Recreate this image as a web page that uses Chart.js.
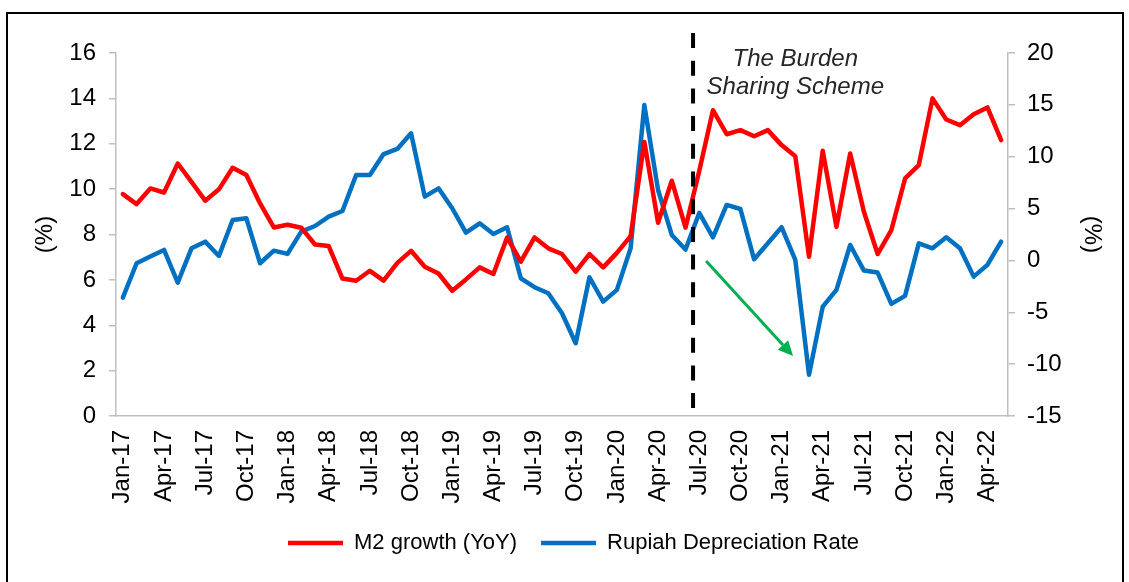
<!DOCTYPE html>
<html>
<head>
<meta charset="utf-8">
<script src="https://cdn.jsdelivr.net/npm/chart.js@4.4.1/dist/chart.umd.min.js"></script>
<style>
  html, body { margin: 0; padding: 0; background: #fff; }
  #wrap { position: relative; width: 1129px; height: 582px; overflow: hidden; }
  #frame { position: absolute; left: 6px; top: 12px; width: 1118px; height: 600px; border: 2px solid #000; box-sizing: border-box; pointer-events: none; }
  canvas { position: absolute; left: 0; top: 0; }
</style>
</head>
<body>
<div id="wrap">
  <canvas id="chart" width="1129" height="582"></canvas>
  <div id="frame"></div>
</div>
<script>
// months, Jan-17 .. May-22
const months = [
  'Jan-17','Feb-17','Mar-17','Apr-17','May-17','Jun-17','Jul-17','Aug-17','Sep-17','Oct-17','Nov-17','Dec-17',
  'Jan-18','Feb-18','Mar-18','Apr-18','May-18','Jun-18','Jul-18','Aug-18','Sep-18','Oct-18','Nov-18','Dec-18',
  'Jan-19','Feb-19','Mar-19','Apr-19','May-19','Jun-19','Jul-19','Aug-19','Sep-19','Oct-19','Nov-19','Dec-19',
  'Jan-20','Feb-20','Mar-20','Apr-20','May-20','Jun-20','Jul-20','Aug-20','Sep-20','Oct-20','Nov-20','Dec-20',
  'Jan-21','Feb-21','Mar-21','Apr-21','May-21','Jun-21','Jul-21','Aug-21','Sep-21','Oct-21','Nov-21','Dec-21',
  'Jan-22','Feb-22','Mar-22','Apr-22','May-22'
];

// M2 growth (YoY), %, left axis
const m2Growth = [
  9.78, 9.34, 10.03, 9.85, 11.13, 10.32, 9.49, 9.99, 10.94, 10.62, 9.37, 8.31,
  8.43, 8.30, 7.56, 7.49, 6.06, 5.96, 6.40, 5.97, 6.75, 7.28, 6.58, 6.28,
  5.52, 6.02, 6.55, 6.26, 7.87, 6.80, 7.87, 7.39, 7.14, 6.36, 7.14, 6.55,
  7.19, 7.93, 12.08, 8.52, 10.37, 8.30, 10.8, 13.48, 12.42, 12.60, 12.33, 12.60,
  11.94, 11.45, 7.02, 11.69, 8.34, 11.57, 9.00, 7.14, 8.19, 10.47, 11.06, 14.00,
  13.07, 12.82, 13.30, 13.60, 12.16
];

// Rupiah depreciation rate, %, right axis
const rupiahDepreciation = [
  -3.58, -0.27, 0.37, 1.01, -2.14, 1.17, 1.81, 0.43, 3.90, 4.06, -0.27, 0.94,
  0.63, 2.78, 3.32, 4.22, 4.77, 8.24, 8.24, 10.26, 10.75, 12.26, 6.15, 6.95,
  5.03, 2.68, 3.58, 2.55, 3.20, -1.72, -2.58, -3.16, -5.09, -7.98, -1.62, -3.97,
  -2.84, 1.17, 14.98, 6.79, 2.46, 1.05, 4.58, 2.23, 5.35, 4.96, 0.11, 1.65,
  3.20, 0.05, -11.03, -4.45, -2.84, 1.49, -0.98, -1.17, -4.19, -3.42, 1.65, 1.17,
  2.23, 1.17, -1.56, -0.43, 1.81
];

// annotation anchors (category index, left-axis value)
const schemeStart = 41.55;
const schemeLabel = ['The Burden', 'Sharing Scheme'];
const schemeLabelPos = [49, 15.73, 14.5];
const arrowFrom = [42.5, 6.83];
const arrowTo = [48.84, 2.64];

const FONT = '"Liberation Sans", Arial, sans-serif';
const AXIS_GREY = '#BFBFBF';

const burdenSharing = {
  id: 'burdenSharing',
  afterDatasetsDraw(chart) {
    const { ctx, chartArea, scales: { x, y } } = chart;
    const at = i => x.getPixelForValue(Math.floor(i)) +
      (i % 1) * (x.getPixelForValue(1) - x.getPixelForValue(0));

    ctx.save();
    // vertical dashed line
    const lx = at(schemeStart);
    ctx.strokeStyle = '#000';
    ctx.lineWidth = 4;
    ctx.setLineDash([15, 12.7]);
    ctx.beginPath();
    ctx.moveTo(lx, chartArea.top - 20);
    ctx.lineTo(lx, chartArea.bottom);
    ctx.stroke();
    ctx.setLineDash([]);

    // label
    ctx.fillStyle = '#262626';
    ctx.font = 'italic 24px ' + FONT;
    ctx.textAlign = 'center';
    ctx.textBaseline = 'middle';
    const tx = at(schemeLabelPos[0]);
    ctx.fillText(schemeLabel[0], tx, y.getPixelForValue(schemeLabelPos[1]));
    ctx.fillText(schemeLabel[1], tx, y.getPixelForValue(schemeLabelPos[2]));

    // green arrow
    const x0 = at(arrowFrom[0]), y0 = y.getPixelForValue(arrowFrom[1]);
    const x1 = at(arrowTo[0]), y1 = y.getPixelForValue(arrowTo[1]);
    const ang = Math.atan2(y1 - y0, x1 - x0);
    const head = 15, half = 7;
    const bx = x1 - head * Math.cos(ang), by = y1 - head * Math.sin(ang);
    ctx.strokeStyle = '#00B050';
    ctx.fillStyle = '#00B050';
    ctx.lineWidth = 3;
    ctx.beginPath();
    ctx.moveTo(x0, y0);
    ctx.lineTo(bx, by);
    ctx.stroke();
    ctx.beginPath();
    ctx.moveTo(x1, y1);
    ctx.lineTo(bx + half * Math.sin(ang), by - half * Math.cos(ang));
    ctx.lineTo(bx - half * Math.sin(ang), by + half * Math.cos(ang));
    ctx.closePath();
    ctx.fill();
    ctx.restore();
  }
};

new Chart(document.getElementById('chart'), {
  type: 'line',
  data: {
    labels: months,
    datasets: [
      {
        label: 'M2 growth (YoY)',
        data: m2Growth,
        yAxisID: 'y',
        borderColor: '#FF0000',
        backgroundColor: '#FF0000',
        borderWidth: 4.5,
        borderCapStyle: 'round',
        borderJoinStyle: 'round',
        pointRadius: 0,
        tension: 0
      },
      {
        label: 'Rupiah Depreciation Rate',
        data: rupiahDepreciation,
        yAxisID: 'y1',
        borderColor: '#0070C0',
        backgroundColor: '#0070C0',
        borderWidth: 4.5,
        borderCapStyle: 'round',
        borderJoinStyle: 'round',
        pointRadius: 0,
        tension: 0
      }
    ]
  },
  options: {
    responsive: false,
    animation: false,
    layout: { padding: { left: 18, top: 53, right: 0, bottom: 18 } },
    plugins: {
      tooltip: { enabled: false },
      legend: {
        position: 'bottom',
        labels: {
          usePointStyle: true,
          pointStyle: 'line',
          pointStyleWidth: 55,
          padding: 24,
          color: '#000',
          font: { family: FONT, size: 22 }
        }
      }
    },
    scales: {
      x: {
        offset: true,
        grid: { display: false, drawTicks: false },
        border: { color: AXIS_GREY, width: 1.5 },
        ticks: {
          autoSkip: false,
          maxRotation: 90,
          minRotation: 90,
          padding: 14,
          color: '#000',
          font: { family: FONT, size: 24 },
          callback(val, i) { return i % 3 === 0 ? this.getLabelForValue(val) : ''; }
        },
        afterFit(scale) { scale.height = 92; }
      },
      y: {
        position: 'left',
        min: 0,
        max: 16,
        grid: { drawOnChartArea: false, color: AXIS_GREY, tickLength: 7, lineWidth: 1.5 },
        border: { color: AXIS_GREY, width: 1.5 },
        ticks: { stepSize: 2, padding: 13, color: '#000', font: { family: FONT, size: 24 } },
        title: { display: true, text: '(%)', color: '#000', padding: { top: 12.6, bottom: 0 }, font: { family: FONT, size: 24 } },
        afterFit(scale) { scale.width = 98; }
      },
      y1: {
        position: 'right',
        min: -15,
        max: 20,
        grid: { drawOnChartArea: false, color: AXIS_GREY, tickLength: 7, lineWidth: 1.5 },
        border: { color: AXIS_GREY, width: 1.5 },
        ticks: { stepSize: 5, padding: 12, color: '#000', font: { family: FONT, size: 24 } },
        title: { display: true, text: '(%)', color: '#000', padding: { top: 22.6, bottom: 0 }, font: { family: FONT, size: 24 } },
        afterFit(scale) { scale.width = 121; }
      }
    }
  },
  plugins: [burdenSharing]
});
</script>
</body>
</html>
